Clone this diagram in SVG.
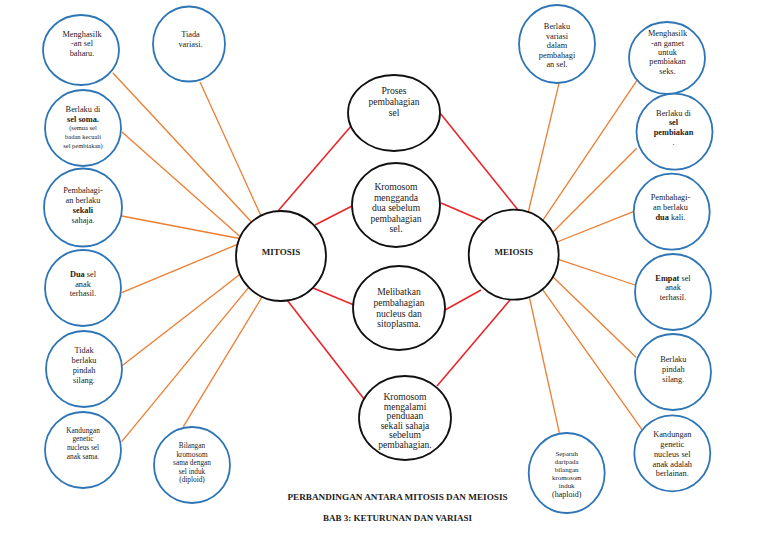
<svg xmlns="http://www.w3.org/2000/svg" width="768" height="543" viewBox="0 0 768 543">
<style>
.bg{fill:#fff}
.sat{fill:#fff;stroke:#2E75B6;stroke-width:1.8}
.ctr{fill:#fff;stroke:#111;stroke-width:1.8}
.or{stroke:#ED7D31;stroke-width:1.3;fill:none}
.rd{stroke:#E8262A;stroke-width:1.6;fill:none}
text{font-family:"Liberation Serif","Times New Roman",serif;fill:#222;text-anchor:middle}
.s{font-size:8.3px}
.c{font-size:9.6px}
.xs{font-size:6.5px}
.sm{font-size:7.3px}
.hub{font-size:9px;font-weight:bold}
.t{font-size:9.2px;font-weight:bold}
.b{font-weight:bold}
</style>
<rect class="bg" x="0" y="0" width="768" height="543"/>
<g id="connectors">
<line class="or" x1="112.7" y1="72.7" x2="251.5" y2="222"/>
<line class="or" x1="200" y1="82" x2="261" y2="216"/>
<line class="or" x1="121.7" y1="131.7" x2="240" y2="236.5"/>
<line class="or" x1="121.7" y1="216" x2="239.5" y2="238.5"/>
<line class="or" x1="121.7" y1="292.7" x2="237.4" y2="244.4"/>
<line class="or" x1="121.7" y1="366" x2="240" y2="274.3"/>
<line class="or" x1="121.7" y1="441.7" x2="248.7" y2="287.3"/>
<line class="or" x1="183.3" y1="426.7" x2="262" y2="297"/>
<line class="or" x1="559" y1="83.3" x2="528.3" y2="212"/>
<line class="or" x1="638.3" y1="78.3" x2="542.8" y2="220.4"/>
<line class="or" x1="636.7" y1="148.3" x2="553" y2="232"/>
<line class="or" x1="633.3" y1="211.7" x2="557" y2="242"/>
<line class="or" x1="635" y1="285" x2="558.3" y2="259.4"/>
<line class="or" x1="636" y1="357.3" x2="553" y2="277"/>
<line class="or" x1="642.7" y1="430.7" x2="542.5" y2="289.3"/>
<line class="or" x1="559.3" y1="432.7" x2="529.3" y2="297"/>
<line class="rd" x1="278" y1="211" x2="352" y2="125"/>
<line class="rd" x1="315" y1="225" x2="352" y2="206"/>
<line class="rd" x1="313" y1="288" x2="354" y2="305"/>
<line class="rd" x1="287" y1="300" x2="364" y2="399"/>
<line class="rd" x1="440" y1="113" x2="518" y2="210"/>
<line class="rd" x1="441" y1="203" x2="483" y2="221"/>
<line class="rd" x1="445" y1="310" x2="481" y2="290"/>
<line class="rd" x1="437" y1="386" x2="510" y2="300"/>
</g>
<g id="mitosis"><circle class="ctr" cx="281" cy="256" r="45"/><text class="hub" x="281" y="255">MITOSIS</text></g>
<g id="meiosis"><circle class="ctr" cx="513.7" cy="254.7" r="45"/><text class="hub" x="513.7" y="254.5">MEIOSIS</text></g>
<g id="proses"><ellipse class="ctr" cx="394" cy="113" rx="46" ry="38"/>
<text class="c" x="394" y="93.5">Proses</text><text class="c" x="394" y="104.5">pembahagian</text><text class="c" x="394" y="116">sel</text></g>
<g id="mengganda"><ellipse class="ctr" cx="396" cy="205" rx="44" ry="42"/>
<text class="c" x="396" y="190">Kromosom</text><text class="c" x="396" y="200.5">mengganda</text><text class="c" x="396" y="211">dua sebelum</text><text class="c" x="396" y="221.5">pembahagian</text><text class="c" x="396" y="232">sel.</text></g>
<g id="melibatkan"><ellipse class="ctr" cx="399" cy="308" rx="46" ry="42"/>
<text class="c" x="399" y="295">Melibatkan</text><text class="c" x="399" y="306">pembahagian</text><text class="c" x="399" y="316.5">nucleus dan</text><text class="c" x="399" y="327">sitoplasma.</text></g>
<g id="mengalami"><ellipse class="ctr" cx="405" cy="418" rx="46" ry="42"/>
<text class="c" x="405" y="399.5">Kromosom</text><text class="c" x="405" y="409.5">mengalami</text><text class="c" x="405" y="419">penduaan</text><text class="c" x="405" y="428.5">sekali sahaja</text><text class="c" x="405" y="438">sebelum</text><text class="c" x="405" y="447.5">pembahagian.</text></g>
<g id="l-menghasilkan"><ellipse class="sat" cx="81" cy="50" rx="38" ry="35"/>
<text class="s" x="82" y="36.5">Menghasilk</text><text class="s" x="82" y="46">-an sel</text><text class="s" x="82" y="55.5">baharu.</text></g>
<g id="l-tiada"><ellipse class="sat" cx="189" cy="44" rx="36" ry="37.5"/>
<text class="s" x="190.5" y="36.5">Tiada</text><text class="s" x="190.5" y="46.5">variasi.</text></g>
<g id="l-soma"><circle class="sat" cx="83" cy="128" r="38"/>
<text class="s" x="83" y="111.5">Berlaku di</text><text class="s b" x="83" y="121.5">sel soma.</text>
<text class="xs" x="83" y="129.5">(semua sel</text><text class="xs" x="83" y="138.5">badan kecuali</text><text class="xs" x="83" y="147.5">sel pembiakan)</text></g>
<g id="l-sekali"><circle class="sat" cx="83" cy="207.5" r="39"/>
<text class="s" x="83" y="192.5">Pembahagi-</text><text class="s" x="83" y="202.5">an berlaku</text><text class="s b" x="83" y="212.5">sekali</text><text class="s" x="83" y="222.5">sahaja.</text></g>
<g id="l-dua"><circle class="sat" cx="83" cy="288" r="38"/>
<text class="s" x="83" y="276.5"><tspan class="b">Dua</tspan> sel</text><text class="s" x="83" y="286.5">anak</text><text class="s" x="83" y="295.5">terhasil.</text></g>
<g id="l-tidak"><circle class="sat" cx="84" cy="369" r="38"/>
<text class="s" x="84" y="353">Tidak</text><text class="s" x="84" y="363">berlaku</text><text class="s" x="84" y="373">pindah</text><text class="s" x="84" y="383">silang.</text></g>
<g id="l-kandungan"><circle class="sat" cx="83" cy="450" r="38"/>
<text class="sm" x="83" y="432.5">Kandungan</text><text class="sm" x="83" y="441">genetic</text><text class="sm" x="83" y="450">nucleus sel</text><text class="sm" x="83" y="458.5">anak sama.</text></g>
<g id="l-bilangan"><circle class="sat" cx="192" cy="465" r="38"/>
<text class="sm" x="192" y="448.3">Bilangan</text><text class="sm" x="192" y="456.6">kromosom</text><text class="sm" x="192" y="465.2">sama dengan</text><text class="sm" x="192" y="473.6">sel induk</text><text class="sm" x="192" y="481.6">(diploid)</text></g>
<g id="r-variasi"><ellipse class="sat" cx="557" cy="44" rx="38" ry="39"/>
<text class="s" x="557" y="28.5">Berlaku</text><text class="s" x="557" y="38.5">variasi</text><text class="s" x="557" y="48">dalam</text><text class="s" x="557" y="57.5">pembahagi</text><text class="s" x="557" y="67">an sel.</text></g>
<g id="r-gamet"><ellipse class="sat" cx="667" cy="58" rx="38" ry="36"/>
<text class="s" x="667.5" y="35.5">Menghasilk</text><text class="s" x="667.5" y="45.5">-an gamet</text><text class="s" x="667.5" y="54.5">untuk</text><text class="s" x="667.5" y="64">pembiakan</text><text class="s" x="667.5" y="73.5">seks.</text></g>
<g id="r-pembiakan"><circle class="sat" cx="674.5" cy="131.7" r="38"/>
<text class="s" x="673.5" y="115.5">Berlaku di</text><text class="s b" x="673.5" y="125">sel</text><text class="s b" x="673.5" y="135">pembiakan</text><text class="s" x="673.5" y="145">.</text></g>
<g id="r-dua"><circle class="sat" cx="671.7" cy="211.7" r="38"/>
<text class="s" x="670.5" y="200">Pembahagi-</text><text class="s" x="670.5" y="210">an berlaku</text><text class="s" x="670.5" y="220"><tspan class="b">dua</tspan> kali.</text></g>
<g id="r-empat"><circle class="sat" cx="673" cy="292" r="38"/>
<text class="s" x="673" y="280.5"><tspan class="b">Empat</tspan> sel</text><text class="s" x="673" y="290">anak</text><text class="s" x="673" y="300">terhasil.</text></g>
<g id="r-pindah"><circle class="sat" cx="673" cy="372" r="38"/>
<text class="s" x="673.3" y="361.5">Berlaku</text><text class="s" x="673.3" y="371.5">pindah</text><text class="s" x="673.3" y="381.5">silang.</text></g>
<g id="r-kandungan"><circle class="sat" cx="672.3" cy="453.3" r="38"/>
<text class="s" x="672.3" y="437">Kandungan</text><text class="s" x="672.3" y="447">genetic</text><text class="s" x="672.3" y="456.5">nucleus sel</text><text class="s" x="672.3" y="466.5">anak adalah</text><text class="s" x="672.3" y="476">berlainan.</text></g>
<g id="r-separuh"><ellipse class="sat" cx="566.7" cy="473" rx="38" ry="40"/>
<text class="sm" x="566.7" y="455.6" style="font-size:6.9px">Separuh</text><text class="sm" x="566.7" y="464" style="font-size:6.9px">daripada</text><text class="sm" x="566.7" y="472.3" style="font-size:6.9px">bilangan</text><text class="sm" x="566.7" y="480" style="font-size:6.9px">kromosom</text><text class="sm" x="566.7" y="488.3" style="font-size:6.9px">induk</text><text class="s" x="566.7" y="497" style="font-size:8px">(haploid)</text></g>
<g id="title">
<text class="t" x="397.5" y="500">PERBANDINGAN ANTARA MITOSIS DAN MEIOSIS</text>
<text class="t" x="397.5" y="521" style="font-size:9px">BAB 3: KETURUNAN DAN VARIASI</text>
</g>
</svg>
